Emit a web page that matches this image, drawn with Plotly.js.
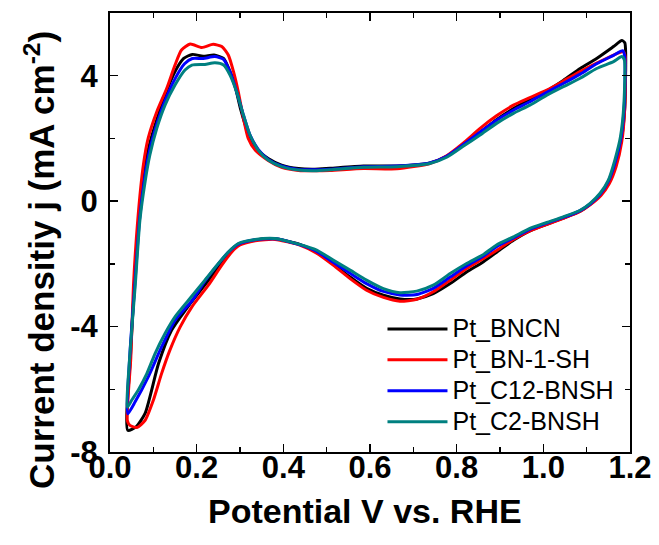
<!DOCTYPE html>
<html>
<head>
<meta charset="utf-8">
<script src="https://cdn.plot.ly/plotly-3.0.1.min.js"></script>
<style>html,body{margin:0;padding:0;background:#fff;}#chart{width:659px;height:545px;}</style>
</head>
<body>
<div id="chart"></div>
<script>
// ---- data (potential V vs RHE, current density mA cm^-2), one closed CV loop per sample ----
const seriesNames = ['Pt_BNCN', 'Pt_BN-1-SH', 'Pt_C12-BNSH', 'Pt_C2-BNSH'];
const seriesColors = ['#000000', '#ff0000', '#0000ff', '#008080'];

const bncnV = [0.041,0.047,0.056,0.066,0.079,0.090,0.108,0.127,0.150,0.170,0.190,0.215,0.240,0.262,0.275,0.288,0.302,0.318,0.338,0.365,0.396,0.435,0.473,0.508,0.585,0.662,0.738,0.777,0.815,0.854,0.892,0.931,0.969,1.008,1.046,1.085,1.123,1.162,1.181,1.188,
  1.190,1.188,1.180,1.167,1.151,1.132,1.108,1.085,1.046,1.008,0.969,0.931,0.900,0.862,0.823,0.785,0.746,0.708,0.692,0.669,0.631,0.592,0.554,0.515,0.477,0.438,0.381,0.335,0.298,0.276,0.254,0.223,0.185,0.142,0.112,0.081,0.060,0.041];
const bncnJ = [-7.31,-5.00,-2.73,-0.61,0.90,1.75,2.60,3.38,4.13,4.55,4.68,4.62,4.66,4.55,4.20,3.70,2.90,2.20,1.68,1.36,1.15,1.04,1.02,1.05,1.12,1.12,1.22,1.43,1.80,2.20,2.60,2.95,3.25,3.52,3.85,4.23,4.55,4.93,5.12,5.05,
  4.70,3.00,1.95,1.20,0.60,0.20,-0.10,-0.32,-0.54,-0.74,-0.95,-1.25,-1.55,-1.93,-2.26,-2.63,-2.95,-3.12,-3.14,-3.12,-3.00,-2.78,-2.42,-2.00,-1.63,-1.38,-1.20,-1.24,-1.38,-1.62,-2.02,-2.60,-3.27,-4.12,-5.18,-6.77,-7.20,-7.31];

const bn1shV = [0.040,0.048,0.054,0.064,0.077,0.088,0.108,0.131,0.150,0.165,0.185,0.212,0.238,0.258,0.273,0.285,0.296,0.308,0.319,0.335,0.365,0.396,0.435,0.473,0.508,0.585,0.662,0.738,0.777,0.815,0.854,0.892,0.931,0.969,1.008,1.046,1.085,1.123,1.162,1.185,
  1.189,1.188,1.181,1.168,1.152,1.133,1.108,1.085,1.046,1.008,0.969,0.931,0.900,0.862,0.823,0.785,0.746,0.708,0.669,0.631,0.592,0.554,0.515,0.477,0.438,0.381,0.335,0.300,0.281,0.258,0.227,0.189,0.162,0.138,0.119,0.100,0.081,0.062,0.046,0.040];
const bn1shJ = [-7.00,-5.00,-2.73,-0.61,1.15,2.00,2.85,3.60,4.34,4.82,5.01,4.90,5.00,4.93,4.66,4.13,3.49,2.64,2.00,1.63,1.30,1.08,0.98,0.97,0.98,1.04,1.03,1.20,1.45,1.85,2.32,2.72,3.06,3.30,3.54,3.83,4.13,4.40,4.66,4.77,
  4.60,3.00,1.90,1.10,0.55,0.18,-0.12,-0.33,-0.55,-0.74,-0.95,-1.22,-1.50,-1.83,-2.15,-2.52,-2.89,-3.13,-3.19,-3.07,-2.84,-2.47,-2.04,-1.66,-1.40,-1.22,-1.26,-1.40,-1.62,-2.04,-2.68,-3.37,-4.01,-4.76,-5.50,-6.35,-6.99,-7.22,-7.15,-7.00];

const c12V = [0.041,0.046,0.057,0.068,0.080,0.091,0.108,0.127,0.150,0.172,0.190,0.215,0.242,0.262,0.277,0.292,0.308,0.323,0.342,0.365,0.396,0.435,0.473,0.508,0.585,0.662,0.738,0.777,0.815,0.854,0.892,0.931,0.969,1.008,1.046,1.085,1.123,1.162,1.183,
  1.188,1.187,1.179,1.166,1.150,1.131,1.108,1.085,1.046,1.008,0.969,0.931,0.892,0.862,0.823,0.785,0.746,0.708,0.685,0.669,0.631,0.592,0.554,0.515,0.477,0.435,0.381,0.335,0.296,0.273,0.250,0.219,0.190,0.150,0.119,0.088,0.058,0.041];
const c12J = [-6.78,-4.86,-2.73,-0.61,0.75,1.60,2.45,3.20,3.90,4.38,4.55,4.55,4.61,4.52,4.12,3.50,2.74,2.11,1.65,1.33,1.12,1.01,1.00,1.02,1.10,1.12,1.22,1.43,1.80,2.20,2.58,2.90,3.17,3.47,3.75,4.05,4.38,4.65,4.80,
  4.60,3.10,2.00,1.25,0.63,0.22,-0.09,-0.30,-0.52,-0.70,-0.90,-1.17,-1.45,-1.75,-2.07,-2.42,-2.78,-2.98,-3.00,-2.99,-2.88,-2.63,-2.30,-1.95,-1.60,-1.38,-1.20,-1.23,-1.37,-1.63,-2.00,-2.55,-3.16,-3.80,-4.65,-5.61,-6.40,-6.78];

const c2V = [0.040,0.046,0.058,0.069,0.081,0.092,0.108,0.127,0.150,0.173,0.189,0.219,0.242,0.262,0.277,0.292,0.308,0.323,0.342,0.365,0.396,0.435,0.473,0.508,0.585,0.662,0.738,0.777,0.815,0.854,0.892,0.931,0.969,1.008,1.046,1.085,1.123,1.162,1.181,
  1.187,1.186,1.178,1.165,1.150,1.131,1.108,1.085,1.046,1.008,0.969,0.931,0.892,0.862,0.823,0.785,0.746,0.708,0.669,0.631,0.592,0.554,0.515,0.477,0.435,0.381,0.335,0.296,0.273,0.250,0.219,0.181,0.150,0.127,0.104,0.085,0.065,0.050,0.040];
const c2J = [-6.57,-4.86,-2.73,-0.61,0.62,1.47,2.32,3.06,3.70,4.18,4.34,4.36,4.41,4.34,4.02,3.49,2.74,2.11,1.63,1.31,1.10,0.99,0.97,1.00,1.08,1.10,1.20,1.40,1.75,2.11,2.48,2.80,3.06,3.38,3.65,3.92,4.23,4.45,4.61,
  4.50,3.12,2.05,1.31,0.67,0.25,-0.07,-0.29,-0.50,-0.68,-0.87,-1.14,-1.40,-1.70,-1.99,-2.31,-2.68,-2.87,-2.92,-2.79,-2.52,-2.20,-1.88,-1.56,-1.37,-1.19,-1.22,-1.35,-1.62,-1.99,-2.52,-3.16,-3.69,-4.22,-4.86,-5.50,-6.03,-6.35,-6.57];

const xTickVals = [0, 0.2, 0.4, 0.6, 0.8, 1.0, 1.2];
const xTickText = ['0.0', '0.2', '0.4', '0.6', '0.8', '1.0', '1.2'];
const yTickVals = [-8, -4, 0, 4];
const yTickText = ['-8', '-4', '0', '4'];

const xs = [bncnV, bn1shV, c12V, c2V];
const ys = [bncnJ, bn1shJ, c12J, c2J];

const FONT = 'Liberation Sans, Arial, Helvetica, sans-serif';

const traces = seriesNames.map((name, i) => ({
  type: 'scatter',
  mode: 'lines',
  name: '<span style="font-size:25px">' + name + '</span>',
  x: xs[i],
  y: ys[i],
  line: {color: seriesColors[i], width: 3, shape: 'spline', smoothing: 0.6}
}));

const axisCommon = {
  showline: true, linecolor: '#000', linewidth: 2, mirror: 'ticks',
  ticks: 'inside', ticklen: 8, tickwidth: 1.5, tickcolor: '#000',
  showgrid: false, zeroline: false,
  tickfont: {family: FONT, size: 31, color: '#000', weight: 700}
};

const layout = {
  width: 659, height: 545,
  margin: {l: 110, r: 29, t: 13, b: 93},
  paper_bgcolor: '#fff', plot_bgcolor: '#fff',
  showlegend: true,
  legend: {
    x: 0.524, y: 0.327, xanchor: 'left', yanchor: 'top',
    font: {family: FONT, size: 21.5, color: '#000'},
    bgcolor: 'rgba(0,0,0,0)', borderwidth: 0,
    itemwidth: 60, tracegroupgap: 0
  },
  xaxis: Object.assign({}, axisCommon, {
    range: [0, 1.2], tickvals: xTickVals, ticktext: xTickText,
    minor: {dtick: 0.1, ticks: 'inside', ticklen: 5, tickwidth: 1.5, tickcolor: '#000'},
    ticklabelstandoff: -13
  }),
  yaxis: Object.assign({}, axisCommon, {
    range: [-8, 6], tickvals: yTickVals, ticktext: yTickText,
    minor: {dtick: 2, ticks: 'inside', ticklen: 5, tickwidth: 1.5, tickcolor: '#000'},
    ticklabelstandoff: 4
  }),
  annotations: [
    {text: 'Current densitiy j (mA cm<sup>-2</sup>)', xref: 'paper', yref: 'paper',
     x: -0.135, y: 0.437, xanchor: 'center', yanchor: 'middle', textangle: -90, showarrow: false,
     font: {family: FONT, size: 35, color: '#000', weight: 700}},
    {text: 'Potential V vs. RHE', xref: 'paper', yref: 'paper',
     x: 0.49, y: -0.135, xanchor: 'center', yanchor: 'middle', showarrow: false,
     font: {family: FONT, size: 34, color: '#000', weight: 700}}
  ]
};

Plotly.newPlot('chart', traces, layout, {displayModeBar: false, staticPlot: true});
</script>
</body>
</html>
